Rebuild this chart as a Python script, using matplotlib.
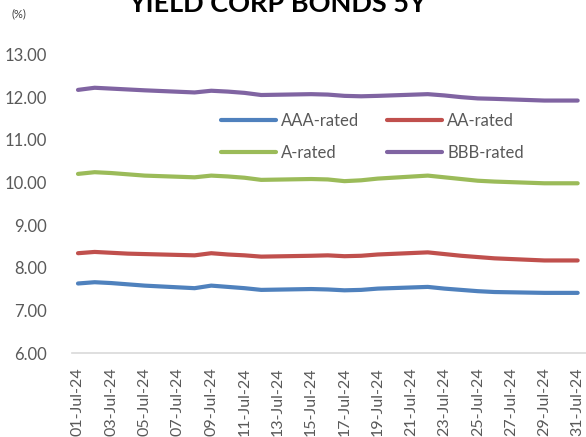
import matplotlib
matplotlib.use('Agg')
import matplotlib.pyplot as plt
import matplotlib.dates as mdates
import datetime

plt.rcParams['font.family'] = ['Lato', 'DejaVu Sans']

# business days of July 2024
days = [1, 2, 3, 4, 5, 8, 9, 10, 11, 12, 15, 16, 17, 18, 19, 22, 23, 24, 25, 26, 29, 30, 31]
dates = [datetime.date(2024, 7, d) for d in days]

aaa = [7.63, 7.66, 7.64, 7.61, 7.58, 7.52, 7.58, 7.55, 7.52, 7.48, 7.50, 7.49,
       7.47, 7.48, 7.51, 7.55, 7.51, 7.48, 7.45, 7.43, 7.41, 7.41, 7.41]
aa = [8.34, 8.37, 8.35, 8.33, 8.32, 8.29, 8.34, 8.31, 8.29, 8.26, 8.28, 8.29,
      8.27, 8.28, 8.31, 8.36, 8.32, 8.28, 8.25, 8.22, 8.17, 8.17, 8.17]
a = [10.20, 10.24, 10.22, 10.19, 10.16, 10.12, 10.16, 10.14, 10.11, 10.06, 10.08, 10.07,
     10.03, 10.05, 10.09, 10.16, 10.12, 10.08, 10.04, 10.02, 9.98, 9.98, 9.98]
bbb = [12.17, 12.22, 12.20, 12.18, 12.16, 12.11, 12.15, 12.13, 12.10, 12.05, 12.07, 12.06,
       12.03, 12.02, 12.03, 12.07, 12.04, 12.00, 11.97, 11.96, 11.92, 11.92, 11.92]

labels = ['AAA-rated', 'AA-rated', 'A-rated', 'BBB-rated']
colors = ['#4F81BD', '#C0504D', '#9BBB59', '#8064A2']

fig = plt.figure(figsize=(5.86, 4.37), dpi=100)
ax = fig.add_axes([72/586, 84/437, 514/586, 298.5/437])

lines = []
for series, lab, col in zip([aaa, aa, a, bbb], labels, colors):
    l, = ax.plot(dates, series, color=col, lw=3, label=lab,
                 solid_joinstyle='round', solid_capstyle='round')
    lines.append(l)

# axes look
ax.set_ylim(6, 13)
ax.set_yticks([6, 7, 8, 9, 10, 11, 12, 13])
ax.yaxis.set_major_formatter(matplotlib.ticker.FormatStrFormatter('%.2f'))
ax.set_xlim(mdates.date2num(datetime.date(2024, 7, 1)) - 0.36,
            mdates.date2num(datetime.date(2024, 7, 31)) + 0.5)
xt = [datetime.date(2024, 7, d) for d in range(1, 32, 2)]
ax.set_xticks(xt)
ax.xaxis.set_major_formatter(mdates.DateFormatter('%d-%b-%y'))
for s in ['top', 'right', 'left']:
    ax.spines[s].set_visible(False)
ax.spines['bottom'].set_color('#d9d9d9')
ax.spines['bottom'].set_linewidth(1.2)
ax.tick_params(axis='both', length=0, colors='#595959', labelsize=12)
ax.tick_params(axis='x', rotation=90, pad=10, labelsize=11.5)
ax.tick_params(axis='y', pad=18)

# legend rows: AAA / AA, then A / BBB (matplotlib fills by column)
order = [0, 2, 1, 3]
leg = ax.legend([lines[i] for i in order], [labels[i] for i in order],
                ncol=2, loc='upper left', bbox_to_anchor=(0.26, 0.855), frameon=False,
                fontsize=12, handlelength=3.3, handletextpad=0.3, columnspacing=1.7,
                labelspacing=0.95)
for t in leg.get_texts():
    t.set_color('#595959')

fig.text(277/586, 1 - 12/437, 'YIELD CORP BONDS 5Y', ha='center', va='baseline',
         fontsize=19.5, fontweight='bold', color='black')
fig.text(12/586, 1 - 17/437, '(%)', fontsize=8, color='#404040')

fig.savefig('out.png', dpi=100)
